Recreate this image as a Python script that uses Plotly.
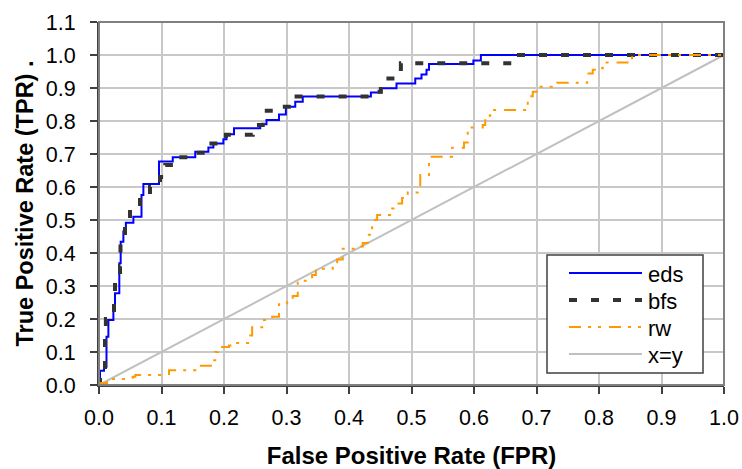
import plotly.graph_objects as go

# ---- data ----
x_ticks = [0.0, 0.1, 0.2, 0.3, 0.4, 0.5, 0.6, 0.7, 0.8, 0.9, 1.0]
y_ticks = [0.0, 0.1, 0.2, 0.3, 0.4, 0.5, 0.6, 0.7, 0.8, 0.9, 1.0, 1.1]

# step ROC curves: each point is the top of a riser (drawn horizontal-then-vertical)
eds_fpr = [0.0, 0.0016, 0.008, 0.012, 0.015, 0.023, 0.0256, 0.0325, 0.0347, 0.039, 0.043,
           0.055, 0.068, 0.071, 0.096, 0.118, 0.154, 0.175, 0.183, 0.199, 0.204, 0.216,
           0.258, 0.268, 0.288, 0.299, 0.314, 0.326, 0.435, 0.451, 0.476, 0.506, 0.516,
           0.524, 0.528, 0.599, 0.611, 1.0]
eds_tpr = [0.0, 0.043, 0.055, 0.146, 0.197, 0.237, 0.278, 0.369, 0.434, 0.465, 0.492,
           0.51, 0.576, 0.609, 0.677, 0.69, 0.707, 0.72, 0.732, 0.745, 0.76, 0.778,
           0.79, 0.803, 0.82, 0.843, 0.858, 0.874, 0.886, 0.899, 0.914, 0.929, 0.941,
           0.955, 0.973, 0.983, 1.0, 1.0]

bfs_fpr = [0.0, 0.0016, 0.0096, 0.011, 0.024, 0.0256, 0.0336, 0.0344, 0.0416, 0.0496,
           0.0656, 0.0816, 0.0976, 0.106, 0.125, 0.149, 0.171, 0.203, 0.246, 0.262,
           0.283, 0.307, 0.437, 0.451, 0.483, 0.667, 1.0]
bfs_tpr = [0.0, 0.04, 0.145, 0.2, 0.25, 0.32, 0.36, 0.43, 0.48, 0.535,
           0.57, 0.6, 0.63, 0.667, 0.69, 0.704, 0.732, 0.758, 0.788, 0.831,
           0.843, 0.874, 0.889, 0.929, 0.975, 1.0, 1.0]

rw_fpr = [0.0, 0.003, 0.013, 0.054, 0.058, 0.112, 0.154, 0.182, 0.186, 0.19, 0.208,
          0.218, 0.242, 0.245, 0.264, 0.277, 0.288, 0.301, 0.31, 0.318, 0.341, 0.347,
          0.374, 0.381, 0.39, 0.414, 0.422, 0.43, 0.435, 0.437, 0.445, 0.469, 0.475,
          0.485, 0.494, 0.51, 0.514, 0.528, 0.565, 0.584, 0.59, 0.614, 0.618, 0.626,
          0.686, 0.694, 0.702, 0.733, 0.781, 0.79, 0.797, 0.806, 0.853, 1.0]
rw_tpr = [0.0, 0.006, 0.018, 0.025, 0.03, 0.045, 0.058, 0.075, 0.1, 0.115, 0.12,
          0.127, 0.15, 0.175, 0.197, 0.207, 0.245, 0.258, 0.27, 0.316, 0.333, 0.352,
          0.372, 0.38, 0.413, 0.42, 0.43, 0.455, 0.465, 0.5, 0.515, 0.535, 0.55,
          0.567, 0.583, 0.605, 0.636, 0.692, 0.719, 0.735, 0.78, 0.788, 0.816, 0.833,
          0.875, 0.889, 0.904, 0.916, 0.944, 0.955, 0.96, 0.977, 1.0, 1.0]

diag_x = [0.0, 1.0]
diag_y = [0.0, 1.0]

series_names = ["eds", "bfs", "rw", "x=y"]

FONT = "Liberation Sans, Arial, sans-serif"

styles = {
    "eds": dict(color="#0000FF", width=2, dash="solid"),
    "bfs": dict(color="#333333", width=4, dash="8px,14px"),
    "rw": dict(color="#FF9900", width=2, dash="12px,7px,3px,7px,3px,8px"),
    "x=y": dict(color="#C0C0C0", width=2, dash="solid"),
}

fig = go.Figure()
fig.add_trace(go.Scatter(x=diag_x, y=diag_y, mode="lines", name="x=y",
                         line=dict(**styles["x=y"])))
fig.add_trace(go.Scatter(x=eds_fpr, y=eds_tpr, mode="lines", name="eds",
                         line=dict(**styles["eds"], shape="hv")))
fig.add_trace(go.Scatter(x=bfs_fpr, y=bfs_tpr, mode="lines", name="bfs",
                         line=dict(**styles["bfs"], shape="hv")))
fig.add_trace(go.Scatter(x=rw_fpr, y=rw_tpr, mode="lines", name="rw",
                         line=dict(**styles["rw"], shape="hv")))

axis_common = dict(
    showgrid=True, gridcolor="#C8C8C8", gridwidth=1.5,
    showline=True, linecolor="#404040", linewidth=2,
    ticks="outside", ticklen=7, tickcolor="#404040", tickwidth=1.5,
    tickformat=".1f", zeroline=False, automargin=False,
    tickfont=dict(family=FONT, size=21.5, color="#000000"),
)

fig.update_xaxes(range=[0, 1.0], tickvals=x_ticks, ticklabelstandoff=5, **axis_common,
                 title=dict(text="<b>False Positive Rate (FPR)</b>",
                            font=dict(family=FONT, size=24, color="#000000"), standoff=28))
fig.update_yaxes(range=[0, 1.1], tickvals=y_ticks, ticklabelstandoff=10, **axis_common,
                 title=dict(text="<b>True Positive Rate (TPR) .</b>",
                            font=dict(family=FONT, size=23.5, color="#000000"), standoff=6))

# plot-area border (top/right)
fig.add_shape(type="rect", xref="paper", yref="paper", x0=0, y0=0, x1=1, y1=1,
              line=dict(color="#808080", width=2), layer="above")

# ---- hand-built legend box (Excel style) ----
PL, PR, PT, PB = 99, 724, 22, 385
def px_x(px):
    return (px - PL) / (PR - PL)
def px_y(py):
    return (PB - py) / (PB - PT)

fig.add_shape(type="rect", xref="paper", yref="paper",
              x0=px_x(547), x1=px_x(703), y0=px_y(373), y1=px_y(255),
              line=dict(color="#404040", width=1.5), fillcolor="white", layer="above")
row_py = [273, 300, 327, 354]
for name, py in zip(series_names, row_py):
    st = styles[name]
    fig.add_shape(type="line", xref="paper", yref="paper",
                  x0=px_x(569), x1=px_x(642), y0=px_y(py), y1=px_y(py),
                  line=dict(color=st["color"], width=st["width"], dash=st["dash"]),
                  layer="above")
    fig.add_annotation(xref="paper", yref="paper", x=px_x(646), y=px_y(py + 1),
                       xanchor="left", yanchor="middle", showarrow=False,
                       text=name, font=dict(family=FONT, size=22, color="#000000"))

fig.update_layout(
    width=742, height=469,
    margin=dict(l=PL, r=742 - PR, t=PT, b=469 - PB),
    paper_bgcolor="white", plot_bgcolor="white",
    font=dict(family=FONT, color="#000000"),
    showlegend=False,
)

fig.write_html("out.html")
